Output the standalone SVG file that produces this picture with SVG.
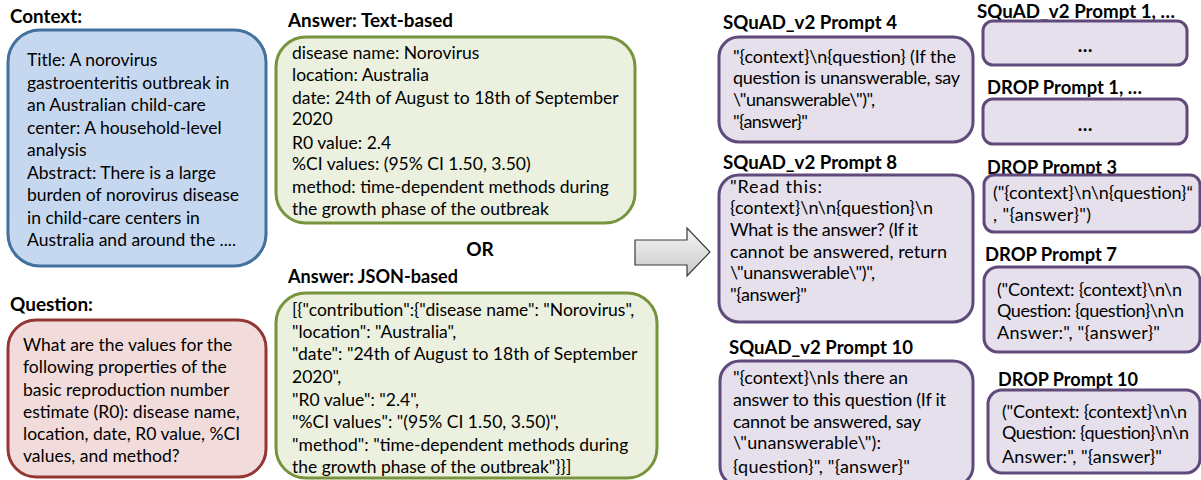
<svg xmlns="http://www.w3.org/2000/svg" width="1201" height="480" viewBox="0 0 1201 480">
<style>
text{font-family:Lato,"Liberation Sans",sans-serif;fill:#000;}
.t{font-size:17.5px;}
.pt{font-size:18px;}
.h{font-size:19px;font-weight:bold;}
.ctx{fill:#C6D8EF;stroke:#41719C;stroke-width:3;}
.q{fill:#F2DCDB;stroke:#943634;stroke-width:3;}
.a{fill:#EBF1DE;stroke:#77933C;stroke-width:3;}
.p{fill:#E5E0EC;stroke:#604A7B;stroke-width:3;}
</style>
<defs>
<linearGradient id="ag" x1="0" y1="0" x2="0" y2="1">
<stop offset="0" stop-color="#F7F7F7"/>
<stop offset="1" stop-color="#C8C8C8"/>
</linearGradient>
</defs>

<g id="context">
<text class="h" x="10" y="23" textLength="72" lengthAdjust="spacingAndGlyphs">Context:</text>
<rect class="ctx" x="8" y="30" width="258" height="236" rx="32"/>
<text class="t" x="27" y="66">Title: A norovirus</text>
<text class="t" x="27" y="88.5">gastroenteritis outbreak in</text>
<text class="t" x="27" y="111">an Australian child-care</text>
<text class="t" x="27" y="133.5">center: A household-level</text>
<text class="t" x="27" y="156">analysis</text>
<text class="t" x="27" y="178.5">Abstract: There is a large</text>
<text class="t" x="27" y="201">burden of norovirus disease</text>
<text class="t" x="27" y="223.5">in child-care centers in</text>
<text class="t" x="27" y="246">Australia and around the ....</text>
</g>

<g id="question">
<text class="h" x="10" y="311" textLength="83" lengthAdjust="spacingAndGlyphs">Question:</text>
<rect class="q" x="8" y="320" width="258" height="157" rx="28"/>
<text class="t" x="23" y="351">What are the values for the</text>
<text class="t" x="23" y="373">following properties of the</text>
<text class="t" x="23" y="395.5">basic reproduction number</text>
<text class="t" x="23" y="418">estimate (R0): disease name,</text>
<text class="t" x="23" y="440">location, date, R0 value, %CI</text>
<text class="t" x="23" y="462">values, and method?</text>
</g>

<g id="answer-text">
<text class="h" x="288" y="27" textLength="165" lengthAdjust="spacingAndGlyphs">Answer: Text-based</text>
<rect class="a" x="276" y="37" width="359" height="186" rx="30"/>
<text class="t" x="292" y="59">disease name: Norovirus</text>
<text class="t" x="292" y="80.5">location: Australia</text>
<text class="t" x="292" y="103.5">date: 24th of August to 18th of September</text>
<text class="t" x="292" y="125">2020</text>
<text class="t" x="292" y="148.5">R0 value: 2.4</text>
<text class="t" x="292" y="170">%CI values: (95% CI 1.50, 3.50)</text>
<text class="t" x="292" y="193">method: time-dependent methods during</text>
<text class="t" x="292" y="215">the growth phase of the outbreak</text>
</g>

<g id="or">
<text class="h" x="480" y="256" text-anchor="middle">OR</text>
</g>

<g id="answer-json">
<text class="h" x="288" y="283" textLength="170" lengthAdjust="spacingAndGlyphs">Answer: JSON-based</text>
<rect class="a" x="276" y="293" width="381" height="185" rx="30"/>
<text class="t" x="292" y="316">[{"contribution":{"disease name": "Norovirus",</text>
<text class="t" x="292" y="338">"location": "Australia",</text>
<text class="t" x="292" y="360">"date": "24th of August to 18th of September</text>
<text class="t" x="292" y="383">2020",</text>
<text class="t" x="292" y="406">"R0 value": "2.4",</text>
<text class="t" x="292" y="428">"%CI values": "(95% CI 1.50, 3.50)",</text>
<text class="t" x="292" y="451">"method": "time-dependent methods during</text>
<text class="t" x="292" y="473">the growth phase of the outbreak"}}]</text>
</g>

<g id="connectors">
<path d="M635,240 H687 V228 L710,252 L687,276 V265 H635 Z" fill="url(#ag)" stroke="#3A3A3A" stroke-width="1.2"/>
</g>

<g id="squad4">
<text class="h" x="723" y="29" textLength="174" lengthAdjust="spacingAndGlyphs">SQuAD_v2 Prompt 4</text>
<rect class="p" x="719" y="37" width="254" height="105" rx="20"/>
<text class="pt" x="733" y="63" textLength="223">"{context}\n{question} (If the</text>
<text class="pt" x="733" y="84" textLength="227">question is unanswerable, say</text>
<text class="pt" x="733" y="106" textLength="142">\"unanswerable\")",</text>
<text class="pt" x="733" y="128" textLength="75">"{answer}"</text>
</g>

<g id="squad8">
<text class="h" x="723" y="169" textLength="174" lengthAdjust="spacingAndGlyphs">SQuAD_v2 Prompt 8</text>
<rect class="p" x="719" y="175" width="254" height="147" rx="20"/>
<text class="pt" x="730" y="193" textLength="92">"Read this:</text>
<text class="pt" x="730" y="214" textLength="203">{context}\n\n{question}\n</text>
<text class="pt" x="730" y="236" textLength="188">What is the answer? (If it</text>
<text class="pt" x="730" y="258" textLength="217">cannot be answered, return</text>
<text class="pt" x="730" y="279" textLength="145">\"unanswerable\")",</text>
<text class="pt" x="730" y="301" textLength="77">"{answer}"</text>
</g>

<g id="squad10">
<text class="h" x="729" y="354" textLength="184" lengthAdjust="spacingAndGlyphs">SQuAD_v2 Prompt 10</text>
<rect class="p" x="720" y="361" width="253" height="125" rx="20"/>
<text class="pt" x="733" y="384" textLength="175">"{context}\nIs there an</text>
<text class="pt" x="733" y="406" textLength="213">answer to this question (If it</text>
<text class="pt" x="733" y="428" textLength="188">cannot be answered, say</text>
<text class="pt" x="733" y="449" textLength="148">\"unanswerable\"):</text>
<text class="pt" x="733" y="473" textLength="177">{question}", "{answer}"</text>
</g>

<g id="squad1">
<text class="h" x="977" y="18" textLength="198" lengthAdjust="spacingAndGlyphs">SQuAD_v2 Prompt 1, …</text>
<rect class="p" x="983" y="21" width="204" height="44" rx="10"/>
<text class="h" x="1085" y="52" text-anchor="middle">…</text>
</g>

<g id="drop1">
<text class="h" x="987" y="94" textLength="155" lengthAdjust="spacingAndGlyphs">DROP Prompt 1, …</text>
<rect class="p" x="983" y="99" width="204" height="45" rx="10"/>
<text class="h" x="1085" y="131" text-anchor="middle">…</text>
</g>

<g id="drop3">
<text class="h" x="987" y="174" textLength="130" lengthAdjust="spacingAndGlyphs">DROP Prompt 3</text>
<rect class="p" x="984" y="175" width="216" height="57" rx="10"/>
<text class="pt" x="993" y="199" textLength="200">("{context}\n\n{question}“</text>
<text class="pt" x="993" y="221" textLength="98">, "{answer}")</text>
</g>

<g id="drop7">
<text class="h" x="985" y="261" textLength="132" lengthAdjust="spacingAndGlyphs">DROP Prompt 7</text>
<rect class="p" x="984" y="267" width="216" height="85" rx="14"/>
<text class="pt" x="997" y="296" textLength="185">("Context: {context}\n\n</text>
<text class="pt" x="997" y="317" textLength="187">Question: {question}\n\n</text>
<text class="pt" x="997" y="339" textLength="163">Answer:", "{answer}"</text>
</g>

<g id="drop10">
<text class="h" x="998" y="386" textLength="140" lengthAdjust="spacingAndGlyphs">DROP Prompt 10</text>
<rect class="p" x="988" y="390" width="212" height="83" rx="14"/>
<text class="pt" x="1002" y="418" textLength="185">("Context: {context}\n\n</text>
<text class="pt" x="1002" y="439" textLength="187">Question: {question}\n\n</text>
<text class="pt" x="1002" y="463" textLength="160">Answer:", "{answer}"</text>
</g>
</svg>
